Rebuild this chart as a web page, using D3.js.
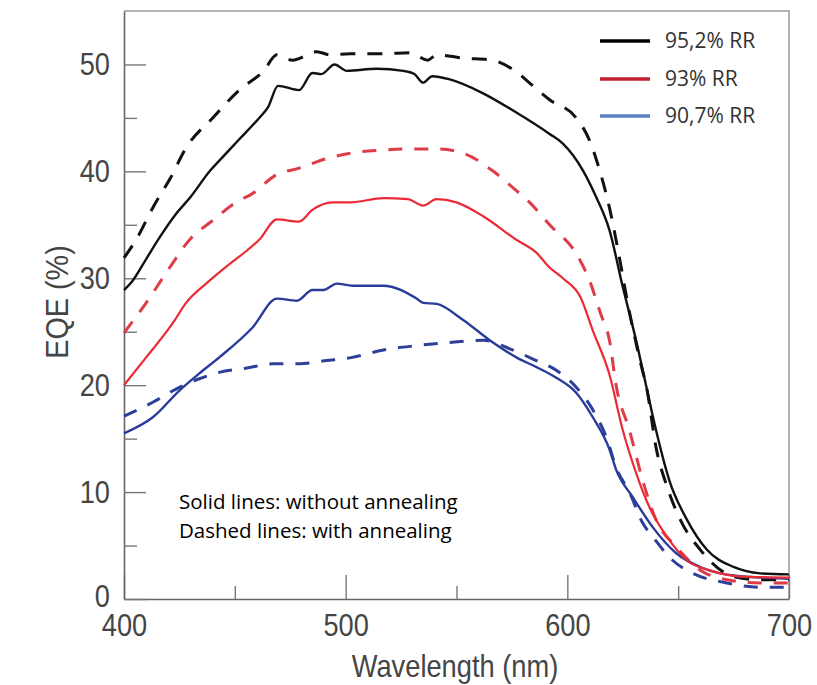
<!DOCTYPE html>
<html>
<head>
<meta charset="utf-8">
<script src="https://cdn.jsdelivr.net/npm/d3@7"></script>
<style>
  html, body { margin: 0; padding: 0; background: #fff; }
  svg { display: block; }
  .tick text { font-family: "Liberation Sans", Arial, sans-serif; fill: #454545; }
</style>
</head>
<body>
<svg id="chart" width="817" height="685"></svg>
<script>
// ---- data (wavelength nm, EQE %) ----
const blackSolid = [[400,28.9],[404,29.8],[410,31.8],[416,33.8],[423,35.9],[430,37.6],[439,40.1],[443,41.0],[452,43.0],[461,45.0],[465,46.0],[469.5,48.0],[479,47.6],[485,49.2],[489,49.1],[495,50.0],[500.5,49.4],[514,49.6],[526,49.4],[531,49.1],[535,48.3],[539,48.9],[547,48.6],[562,47.3],[577,45.5],[592,43.5],[598,42.6],[607,40.1],[613,37.6],[619,34.5],[625,29.2],[631,24.2],[635.5,20.0],[640,15.8],[646,11.1],[654,7.4],[663,4.6],[675,3.0],[687,2.4],[700,2.3]];
const blackDashed = [[400,31.9],[406,33.8],[413,36.6],[421,39.4],[428,42.2],[440,45.0],[452,47.6],[463,49.4],[469,50.9],[476,50.4],[487,51.2],[493,50.9],[502,51.0],[517,51.0],[529,51.1],[537,50.4],[541,50.9],[553,50.6],[566,50.4],[577,49.3],[584.5,48.0],[592,46.7],[604,45.0],[610,42.9],[615,39.8],[619,36.6],[623.7,31.7],[627,27.9],[632.8,22.3],[636,19.5],[640,14.2],[645,10.5],[651,7.4],[660,4.6],[675,2.1],[687,1.8],[700,1.8]];
const redSolid = [[400,20.0],[410,22.6],[422,25.8],[428,27.7],[437,29.5],[448,31.4],[455.5,32.6],[461,33.6],[469,35.5],[479,35.3],[485,36.4],[494,37.1],[502,37.1],[517,37.5],[528,37.4],[535,36.8],[541,37.4],[550,37.1],[562,35.8],[577,33.6],[586,32.4],[592,31.0],[598,30.0],[606,28.2],[611.5,25.1],[619,21.0],[625,15.8],[631,11.8],[637,8.6],[645,5.8],[654,3.6],[664,2.7],[679,2.1],[700,2.0]];
const redDashed = [[400,24.9],[410,27.7],[419,30.5],[430,33.7],[440,35.4],[452,37.3],[457,37.8],[469,39.7],[479,40.3],[491.5,41.2],[502,41.7],[517,42.0],[529,42.1],[541,42.1],[553,41.7],[566,40.1],[577,38.2],[582,37.3],[592,35.0],[604,32.3],[610,29.8],[615,26.7],[619,24.2],[622,20.0],[628,15.8],[634,11.1],[640,7.4],[649,4.9],[660,2.7],[672,1.8],[687,1.5],[700,1.5]];
const blueSolid = [[400,15.5],[413,17.0],[425,19.5],[434,21.1],[443,22.6],[458,25.4],[469,28.1],[478,27.9],[485,28.9],[490,28.9],[496,29.5],[503,29.3],[517,29.3],[532,28.1],[535,27.7],[541,27.6],[553,26.1],[565,24.2],[577,22.6],[586,21.7],[595,20.7],[604,19.3],[611.5,17.0],[619,14.0],[622,12.1],[629.6,9.5],[638.6,6.7],[649,4.3],[661,2.9],[675,2.2],[700,1.9]];
const blueDashed = [[400,17.1],[413,18.4],[425,19.8],[434,20.6],[443,21.2],[455.5,21.6],[467,22.0],[479,22.0],[491.5,22.3],[503,22.6],[517,23.3],[532,23.7],[547,24.0],[562,24.2],[574,23.4],[586,22.3],[595,21.4],[604,19.8],[611.5,17.7],[618,14.9],[622,12.3],[628,10.0],[634,7.1],[638.6,5.8],[647.6,3.6],[656.6,2.4],[672,1.5],[687,1.1],[700,1.1]];

const xMajorTicks = [400, 500, 600, 700];
const xMinorTicks = [450, 550, 650];
const yMajorTicks = [0, 10, 20, 30, 40, 50];
const yMinorTicks = [5, 15, 25, 35, 45];
const legendLabels = ["95,2% RR", "93% RR", "90,7% RR"];
const noteLines = ["Solid lines: without annealing", "Dashed lines: with annealing"];
const xTitle = "Wavelength (nm)";
const yTitle = "EQE (%)";

// ---- layout ----
const svg = d3.select("#chart");
const L = 124, R = 789, T = 11, B = 599;
const x = d3.scaleLinear().domain([400, 700]).range([L, R]);
const y = d3.scaleLinear().domain([0, 55]).range([B, T]);
const NARROW = 0.85;

// frame (top/right)
svg.append("path")
  .attr("d", `M${L},${T}H${R}V${B}`)
  .attr("fill", "none").attr("stroke", "#9a9a9a").attr("stroke-width", 1.5);

// axes
const tickFont = 32;
const gx = svg.append("g").attr("transform", `translate(0,${B})`)
  .call(d3.axisBottom(x).tickValues(xMajorTicks).tickFormat(d3.format("d")).tickSizeInner(-24).tickSizeOuter(0).tickPadding(14));
gx.selectAll(".tick text").style("font-size", tickFont + "px")
  .attr("transform", `scale(${NARROW},1)`);
const gxm = svg.append("g").attr("transform", `translate(0,${B})`)
  .call(d3.axisBottom(x).tickValues(xMinorTicks).tickFormat("").tickSizeInner(-13).tickSizeOuter(0));
gxm.select(".domain").remove();

const gy = svg.append("g").attr("transform", `translate(${L},0)`)
  .call(d3.axisLeft(y).tickValues(yMajorTicks).tickFormat(d3.format("d")).tickSizeInner(-22).tickSizeOuter(0).tickPadding(14));
gy.selectAll(".tick text").style("font-size", tickFont + "px")
  .attr("x", 0)
  .attr("transform", d => `translate(-14,${d === 0 ? -3 : 0}) scale(${NARROW},1)`);
const gym = svg.append("g").attr("transform", `translate(${L},0)`)
  .call(d3.axisLeft(y).tickValues(yMinorTicks).tickFormat("").tickSizeInner(-13).tickSizeOuter(0));
gym.select(".domain").remove();

svg.selectAll(".domain").attr("stroke", "#666").attr("stroke-width", 1.6);
svg.selectAll(".tick line").attr("stroke", "#777").attr("stroke-width", 1.4);

// axis titles
svg.append("text")
  .attr("transform", `translate(455,677) scale(0.88,1)`)
  .attr("text-anchor", "middle")
  .style("font-family", '"Liberation Sans", Arial, sans-serif')
  .style("font-size", "31px").attr("fill", "#454545")
  .text(xTitle);
svg.append("text")
  .attr("transform", `translate(68,302) rotate(-90) scale(0.9,1)`)
  .attr("text-anchor", "middle")
  .style("font-family", '"Liberation Sans", Arial, sans-serif')
  .style("font-size", "32px").attr("fill", "#454545")
  .text(yTitle);

// lines
const line = d3.line().x(d => x(d[0])).y(d => y(d[1])).curve(d3.curveMonotoneX);
const series = [
  { data: blueDashed, color: "#2d3f98", dash: "14,12", w: 3 },
  { data: redDashed, color: "#dd3c48", dash: "14,12", w: 3 },
  { data: blackDashed, color: "#111", dash: "15,12", w: 3 },
  { data: blueSolid, color: "#2b3b9a", dash: null, w: 2.4 },
  { data: redSolid, color: "#ea2a35", dash: null, w: 2.2 },
  { data: blackSolid, color: "#111", dash: null, w: 2.4 }
];
svg.append("g").selectAll("path").data(series).join("path")
  .attr("d", d => line(d.data))
  .attr("fill", "none")
  .attr("stroke", d => d.color)
  .attr("stroke-width", d => d.w)
  .attr("stroke-dasharray", d => d.dash)
  .attr("stroke-linejoin", "round");

// legend
const legendColors = ["#000", "#c42030", "#5a7ec2"];
const lg = svg.append("g");
const ly = [41, 79, 116];
legendLabels.forEach((lab, i) => {
  lg.append("line").attr("x1", 600).attr("x2", 650).attr("y1", ly[i]).attr("y2", ly[i])
    .attr("stroke", legendColors[i]).attr("stroke-width", 3.5);
  lg.append("text").attr("x", 665).attr("y", ly[i]).attr("dy", "0.35em")
    .style("font-family", '"Open Sans", sans-serif').style("font-size", "21px")
    .attr("fill", "#333").text(lab);
});

// note
noteLines.forEach((t, i) => {
  svg.append("text").attr("x", 179).attr("y", 509 + i * 29)
    .style("font-family", '"Open Sans", sans-serif').style("font-size", "20.5px")
    .attr("fill", "#000").text(t);
});
</script>
</body>
</html>
